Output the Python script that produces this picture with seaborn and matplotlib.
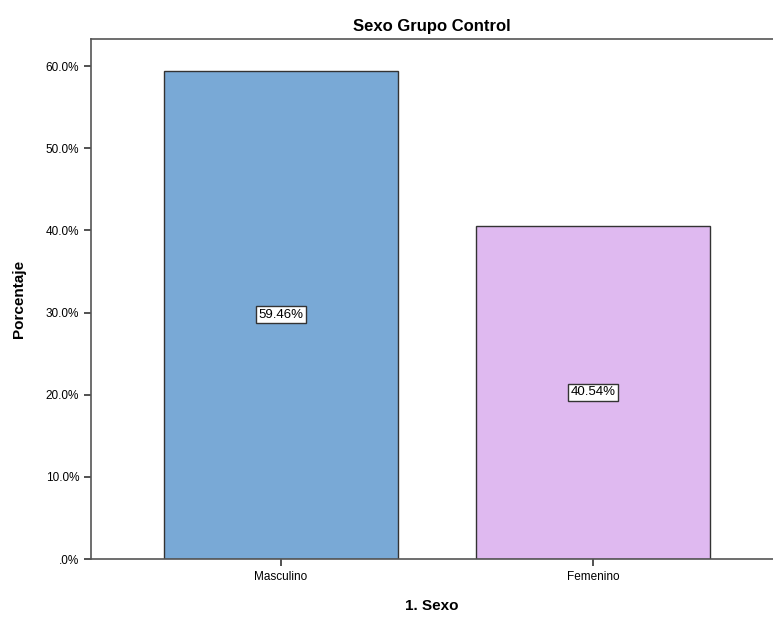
#!/usr/bin/env python3
"""Bar chart: Sexo Grupo Control."""

import matplotlib
matplotlib.use("Agg")
import matplotlib.pyplot as plt
import pandas as pd
import seaborn as sns

CATEGORIES = ["Masculino", "Femenino"]
PERCENTS = [59.46, 40.54]
COLORS = ["#79a9d6", "#dfb9f0"]
Y_TICKS = [0, 10, 20, 30, 40, 50, 60]
Y_TICK_LABELS = [".0%", "10.0%", "20.0%", "30.0%", "40.0%", "50.0%", "60.0%"]


def main():
    sns.set_style("white")
    plt.rcParams["font.family"] = ["Liberation Sans", "DejaVu Sans"]
    plt.rcParams["text.color"] = "black"
    plt.rcParams["axes.labelcolor"] = "black"
    plt.rcParams["xtick.color"] = "black"
    plt.rcParams["ytick.color"] = "black"

    df = pd.DataFrame({"Sexo": CATEGORIES, "Porcentaje": PERCENTS})

    fig = plt.figure(figsize=(7.73, 6.17), dpi=100)
    ax = fig.add_axes([0.1177, 0.094, 0.8823, 0.8428])

    sns.barplot(data=df, x="Sexo", y="Porcentaje", hue="Sexo", palette=COLORS,
                width=0.75, edgecolor="#333333", linewidth=1.0, legend=False,
                saturation=1, ax=ax)

    for i, val in enumerate(PERCENTS):
        ax.text(i, val / 2, f"{val:.2f}%", ha="center", va="center", fontsize=9.5,
                bbox=dict(boxstyle="square,pad=0.2", facecolor="white",
                          edgecolor="#333333", linewidth=1.0))

    ax.set_xlim(-0.609, 1.577)
    ax.set_ylim(0, 63.3)
    ax.set_yticks(Y_TICKS)
    ax.set_yticklabels(Y_TICK_LABELS, fontsize=8.5)
    ax.tick_params(axis="x", labelsize=8.5)
    ax.tick_params(axis="both", direction="out", length=5, width=1.2,
                   color="#333333", left=True, bottom=True)

    for side in ["left", "bottom", "top"]:
        ax.spines[side].set_color("#555555")
        ax.spines[side].set_linewidth(1.2)
    ax.spines["right"].set_visible(False)

    ax.set_title("Sexo Grupo Control", fontsize=12, fontweight="bold", pad=6)
    ax.set_xlabel("1. Sexo", fontsize=11, fontweight="bold", labelpad=12)
    ax.set_ylabel("Porcentaje", fontsize=11, fontweight="bold", labelpad=14)

    fig.savefig("out.png", dpi=100)
    plt.close(fig)


if __name__ == "__main__":
    main()
